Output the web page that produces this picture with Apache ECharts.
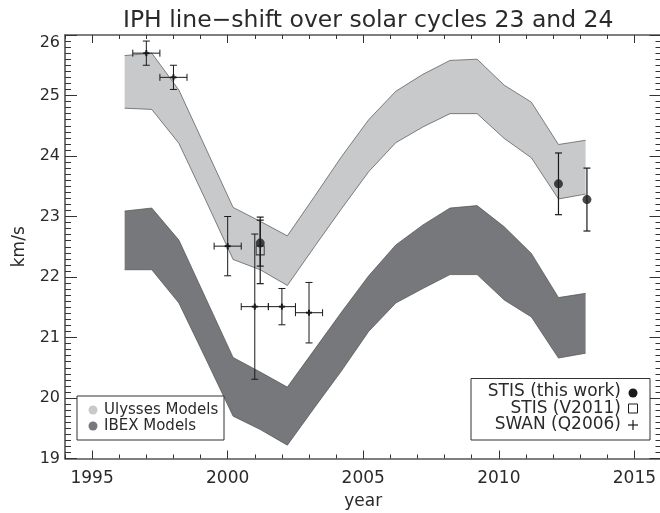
<!DOCTYPE html>
<html>
<head>
<meta charset="utf-8">
<script src="https://cdn.jsdelivr.net/npm/echarts@6/dist/echarts.min.js"></script>
<style>
html,body{margin:0;padding:0;background:#fff;}
#chart{width:660px;height:513px;}
</style>
</head>
<body>
<div id="chart"></div>
<script>
// ---- data ----
const modelYears = [1996.2, 1997.2, 1998.2, 1999.2, 2000.2, 2001.2, 2002.2, 2003.2, 2004.2,
  2005.2, 2006.2, 2007.2, 2008.2, 2009.2, 2010.2, 2011.2, 2012.2, 2013.2];
const ulyssesHigh = [25.66, 25.70, 25.09, 24.12, 23.15, 22.92, 22.68, 23.33, 23.99,
  24.60, 25.07, 25.35, 25.58, 25.60, 25.17, 24.89, 24.19, 24.26];
const ulyssesLow = [24.79, 24.77, 24.21, 23.26, 22.29, 22.12, 21.86, 22.50, 23.13,
  23.74, 24.22, 24.48, 24.70, 24.70, 24.29, 23.97, 23.29, 23.37];
const ibexHigh = [23.09, 23.14, 22.61, 21.64, 20.67, 20.43, 20.18, 20.80, 21.42,
  22.02, 22.53, 22.86, 23.14, 23.18, 22.83, 22.39, 21.66, 21.73];
const ibexLow = [22.12, 22.12, 21.57, 20.64, 19.70, 19.48, 19.22, 19.84, 20.45,
  21.10, 21.57, 21.81, 22.04, 22.04, 21.62, 21.34, 20.66, 20.74];

const swanYears = [1997.0, 1998.0, 2000.0, 2001.0, 2002.0, 2003.0];
const swanValues = [25.70, 25.30, 22.51, 21.51, 21.51, 21.41];
const swanYErr = [0.20, 0.20, 0.49, 1.20, 0.30, 0.50];
const swanXErr = [0.5, 0.5, 0.5, 0.5, 0.5, 0.5];

const stisYears = [2001.2, 2012.2, 2013.25];
const stisValues = [22.56, 23.54, 23.28];
const stisErr = [0.38, 0.51, 0.52];

const v2011Years = [2001.2];
const v2011Values = [22.44];
const v2011Err = [0.55];

const xTickLabels = [1995, 2000, 2005, 2010, 2015];
const yTickLabels = [19, 20, 21, 22, 23, 24, 25, 26];

const titleText = 'IPH line\u2212shift over solar cycles 23 and 24';
const xName = 'year';
const yName = 'km/s';
const legendModels = ['Ulysses Models', 'IBEX Models'];
const legendData = ['STIS (this work)', 'STIS (V2011)', 'SWAN (Q2006)'];

// ---- styling ----
const FONT = 'DejaVu Sans';
const TXT = '#2a2a2a';
const LIGHT = '#c8c9cb';
const DARK = '#77787b';
const EDGE = '#505050';
const MARK = '#1a1a1a';

const chart = echarts.init(document.getElementById('chart'), null, {renderer: 'canvas'});

function bandSeries(name, hi, lo, color) {
  return {
    name: name,
    type: 'custom',
    xAxisIndex: 0, yAxisIndex: 0,
    silent: true,
    z: 1,
    data: modelYears.map((x, i) => [x, lo[i], hi[i]]),
    renderItem: function (params, api) {
      if (params.dataIndex !== 0) return null;
      const pts = [];
      for (let i = 0; i < modelYears.length; i++) pts.push(api.coord([modelYears[i], hi[i]]));
      for (let i = modelYears.length - 1; i >= 0; i--) pts.push(api.coord([modelYears[i], lo[i]]));
      return {type: 'polygon', shape: {points: pts}, style: {fill: color, stroke: null}};
    }
  };
}

function edgeLine(vals) {
  return {
    type: 'line', xAxisIndex: 0, yAxisIndex: 0, silent: true, z: 2,
    symbol: 'none',
    lineStyle: {color: EDGE, width: 0.7},
    data: modelYears.map((x, i) => [x, vals[i]])
  };
}

function errSeries(xs, ys, yerr, xerr, width) {
  return {
    type: 'custom', xAxisIndex: 0, yAxisIndex: 0, silent: true, z: 5,
    data: xs.map((x, i) => [x, ys[i], yerr[i], xerr ? xerr[i] : 0]),
    renderItem: function (params, api) {
      const x = api.value(0), y = api.value(1), ye = api.value(2), xe = api.value(3);
      const top = api.coord([x, y + ye]);
      const bot = api.coord([x, y - ye]);
      const c = api.coord([x, y]);
      const cap = 3.5;
      const st = {stroke: MARK, lineWidth: width};
      const ch = [
        {type: 'line', shape: {x1: top[0], y1: top[1], x2: bot[0], y2: bot[1]}, style: st},
        {type: 'line', shape: {x1: top[0] - cap, y1: top[1], x2: top[0] + cap, y2: top[1]}, style: st},
        {type: 'line', shape: {x1: bot[0] - cap, y1: bot[1], x2: bot[0] + cap, y2: bot[1]}, style: st}
      ];
      if (xe > 0) {
        const l = api.coord([x - xe, y]);
        const r = api.coord([x + xe, y]);
        ch.push({type: 'line', shape: {x1: l[0], y1: l[1], x2: r[0], y2: r[1]}, style: st});
        ch.push({type: 'line', shape: {x1: l[0], y1: l[1] - cap, x2: l[0], y2: l[1] + cap}, style: st});
        ch.push({type: 'line', shape: {x1: r[0], y1: r[1] - cap, x2: r[0], y2: r[1] + cap}, style: st});
        // plus marker at centre
        ch.push({type: 'line', shape: {x1: c[0] - 3, y1: c[1], x2: c[0] + 3, y2: c[1]}, style: {stroke: MARK, lineWidth: 2}});
        ch.push({type: 'line', shape: {x1: c[0], y1: c[1] - 3, x2: c[0], y2: c[1] + 3}, style: {stroke: MARK, lineWidth: 2}});
      }
      return {type: 'group', children: ch};
    }
  };
}

const axisLineStyle = {color: '#555', width: 1.6};
const tickStyle = {color: '#333', width: 1};

const xBase = {type: 'value', min: 1994, max: 2016, splitLine: {show: false}};
const yBase = {type: 'value', min: 19, max: 26, splitLine: {show: false}};

const option = {
  animation: false,
  backgroundColor: '#fff',
  textStyle: {fontFamily: FONT},
  title: {
    text: titleText,
    left: 118, top: 4,
    textStyle: {fontFamily: FONT, fontSize: 23.5, fontWeight: 'normal', color: TXT}
  },
  grid: {left: 65, right: -1.5, top: 35, bottom: 54.5, containLabel: false, outerBoundsMode: 'none'},
  xAxis: [
    Object.assign({}, xBase, {
      position: 'bottom', interval: 1,
      axisLine: {show: true, lineStyle: axisLineStyle},
      axisTick: {show: true, inside: true, length: 4, lineStyle: tickStyle},
      axisLabel: {show: false},
      name: xName, nameLocation: 'middle', nameGap: 35,
      nameTextStyle: {fontFamily: FONT, fontSize: 17, color: TXT}
    }),
    Object.assign({}, xBase, {
      position: 'bottom',
      axisLine: {show: false},
      axisTick: {show: true, inside: true, length: 8, customValues: xTickLabels, lineStyle: tickStyle},
      axisLabel: {show: true, customValues: xTickLabels, margin: 12, fontFamily: FONT, fontSize: 17, color: TXT,
        formatter: v => String(v)}
    }),
    Object.assign({}, xBase, {
      position: 'top', interval: 1,
      axisLine: {show: true, lineStyle: axisLineStyle},
      axisTick: {show: true, inside: true, length: 4, lineStyle: tickStyle},
      axisLabel: {show: false}
    }),
    Object.assign({}, xBase, {
      position: 'top',
      axisLine: {show: false},
      axisTick: {show: true, inside: true, length: 8, customValues: xTickLabels, lineStyle: tickStyle},
      axisLabel: {show: false}
    })
  ],
  yAxis: [
    Object.assign({}, yBase, {
      position: 'left', interval: 1,
      axisLine: {show: true, lineStyle: axisLineStyle},
      axisTick: {show: true, inside: true, length: 12, lineStyle: tickStyle},
      minorTick: {show: true, splitNumber: 10, length: 6, lineStyle: tickStyle},
      axisLabel: {show: true, inside: false, margin: 5, fontFamily: FONT, fontSize: 16, color: TXT,
        verticalAlignMaxLabel: 'top', formatter: v => String(v)},
      name: yName, nameLocation: 'middle', nameGap: 37, nameRotate: 90,
      nameTextStyle: {fontFamily: FONT, fontSize: 17, color: TXT}
    }),
    Object.assign({}, yBase, {
      position: 'right', interval: 1,
      axisLine: {show: true, lineStyle: axisLineStyle},
      axisTick: {show: true, inside: true, length: 12, lineStyle: tickStyle},
      minorTick: {show: true, splitNumber: 10, length: 6, lineStyle: tickStyle},
      axisLabel: {show: false}
    })
  ],
  series: [
    bandSeries('Ulysses Models', ulyssesHigh, ulyssesLow, LIGHT),
    bandSeries('IBEX Models', ibexHigh, ibexLow, DARK),
    edgeLine(ulyssesHigh), edgeLine(ulyssesLow), edgeLine(ibexHigh), edgeLine(ibexLow),
    errSeries(swanYears, swanValues, swanYErr, swanXErr, 1),
    errSeries(v2011Years, v2011Values, v2011Err, null, 1.2),
    errSeries(stisYears, stisValues, stisErr, null, 1.2),
    {
      name: 'STIS (V2011)', type: 'scatter', xAxisIndex: 0, yAxisIndex: 0, z: 6, silent: true,
      symbol: 'rect', symbolSize: [8, 9],
      itemStyle: {color: 'rgba(0,0,0,0)', borderColor: MARK, borderWidth: 1},
      data: v2011Years.map((x, i) => [x, v2011Values[i]])
    },
    {
      name: 'STIS (this work)', type: 'scatter', xAxisIndex: 0, yAxisIndex: 0, z: 7, silent: true,
      symbol: 'circle', symbolSize: 9,
      itemStyle: {color: MARK},
      data: stisYears.map((x, i) => [x, stisValues[i]])
    }
  ],
  graphic: [
    // models legend (bottom-left)
    {type: 'rect', z: 20, shape: {x: 77, y: 396, width: 147, height: 44},
      style: {fill: '#fff', stroke: '#333', lineWidth: 1}},
    {type: 'circle', z: 21, shape: {cx: 93, cy: 410, r: 4.5}, style: {fill: LIGHT}},
    {type: 'text', z: 21, x: 104, y: 410, style: {text: legendModels[0], fontFamily: FONT, fontSize: 15,
      fill: TXT, verticalAlign: 'middle'}},
    {type: 'circle', z: 21, shape: {cx: 93, cy: 426, r: 4.5}, style: {fill: DARK}},
    {type: 'text', z: 21, x: 104, y: 426, style: {text: legendModels[1], fontFamily: FONT, fontSize: 15,
      fill: TXT, verticalAlign: 'middle'}},
    // data legend (bottom-right)
    {type: 'rect', z: 20, shape: {x: 471, y: 378.5, width: 179, height: 61.5},
      style: {fill: '#fff', stroke: '#333', lineWidth: 1}},
    {type: 'text', z: 21, x: 621, y: 392, style: {text: legendData[0], fontFamily: FONT, fontSize: 17,
      fill: TXT, align: 'right', verticalAlign: 'middle'}},
    {type: 'circle', z: 21, shape: {cx: 633, cy: 393, r: 4.5}, style: {fill: MARK}},
    {type: 'text', z: 21, x: 621, y: 408.5, style: {text: legendData[1], fontFamily: FONT, fontSize: 17,
      fill: TXT, align: 'right', verticalAlign: 'middle'}},
    {type: 'rect', z: 21, shape: {x: 628.5, y: 404, width: 9, height: 9},
      style: {fill: 'none', stroke: MARK, lineWidth: 1}},
    {type: 'text', z: 21, x: 621, y: 425, style: {text: legendData[2], fontFamily: FONT, fontSize: 17,
      fill: TXT, align: 'right', verticalAlign: 'middle'}},
    {type: 'line', z: 21, shape: {x1: 628, y1: 425, x2: 638, y2: 425}, style: {stroke: MARK, lineWidth: 1.2}},
    {type: 'line', z: 21, shape: {x1: 633, y1: 420, x2: 633, y2: 430}, style: {stroke: MARK, lineWidth: 1.2}}
  ]
};

chart.setOption(option);
</script>
</body>
</html>
